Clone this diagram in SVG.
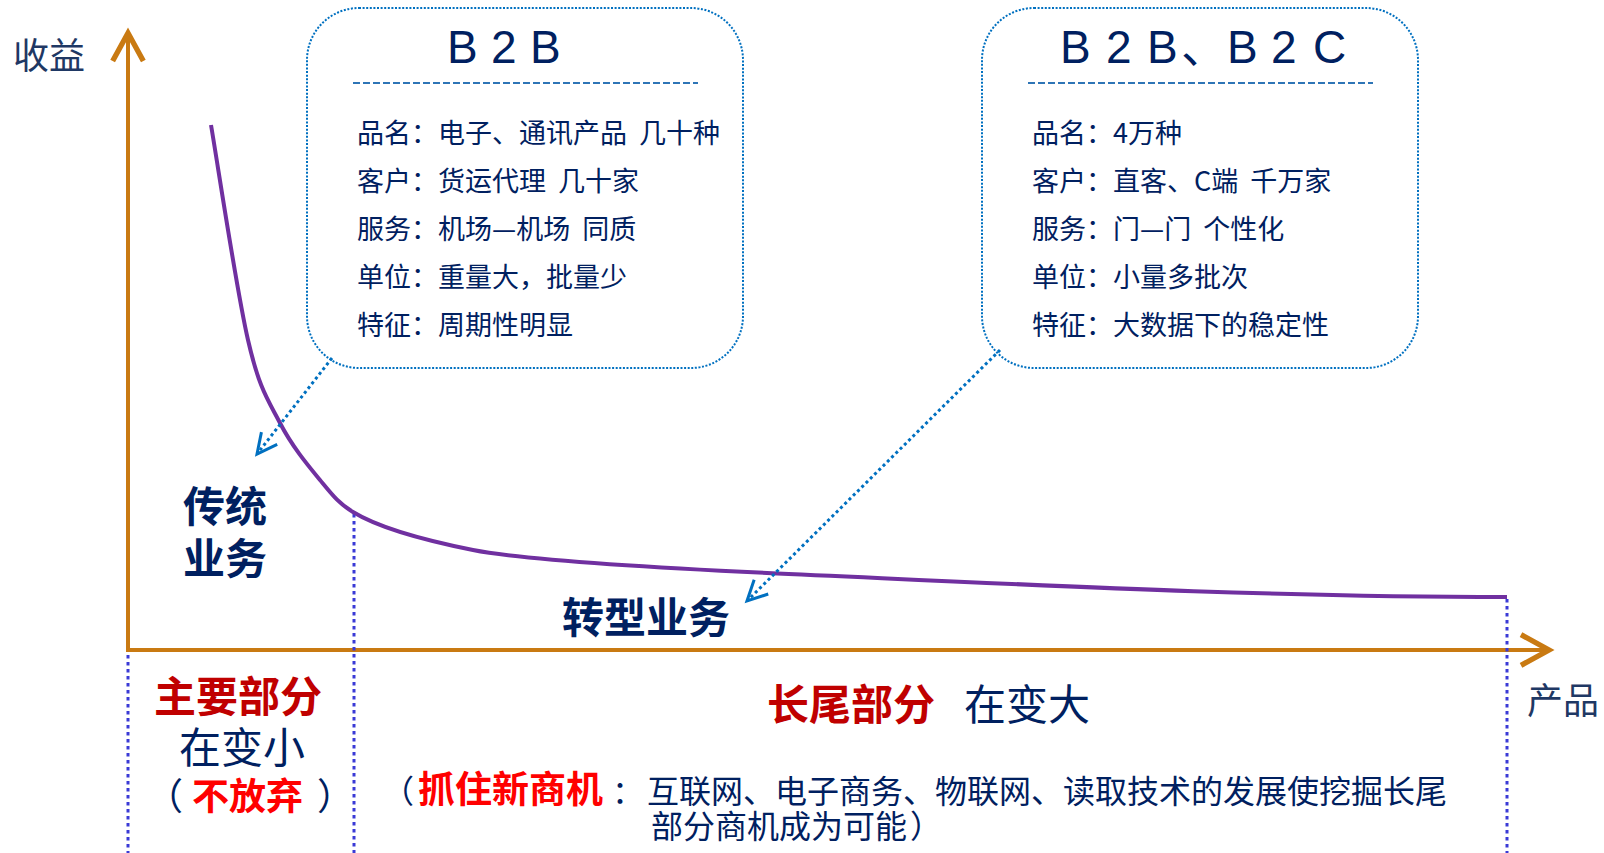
<svg xmlns="http://www.w3.org/2000/svg" width="1604" height="853" viewBox="0 0 1604 853">
<style>
.cjk{font-family:"Noto Sans CJK SC","Liberation Sans",sans-serif}
.navy{fill:#002060}
.axisLabel{font-family:"Noto Sans CJK SC",serif;font-size:36px;fill:#1F3864}
.body{font-family:"Noto Sans CJK SC","Liberation Sans",sans-serif;font-size:27px;fill:#002060;word-spacing:6px}
.title{font-family:"Liberation Sans","Noto Sans CJK SC",sans-serif;font-size:46px;fill:#002060}
.big{font-size:42px}
.bold{font-weight:bold}
.dred{fill:#C00000}
.red{fill:#FF0000}
.box{fill:none;stroke:#0070C0;stroke-width:2;stroke-dasharray:2 1.6}
.uline{stroke:#2E75B6;stroke-width:2;stroke-dasharray:7 3}
.tail{fill:none;stroke:#0070C0;stroke-width:3;stroke-dasharray:3 3}
.axis{fill:none;stroke:#C97A12;stroke-width:4}
.vdot{fill:none;stroke:#3A3AD6;stroke-width:3;stroke-dasharray:3.5 3.5}
.curve{fill:none;stroke:#7030A0;stroke-width:4}
</style>
<defs>
<marker id="axArrow" markerUnits="userSpaceOnUse" orient="auto" refX="0" refY="0" markerWidth="40" markerHeight="40" viewBox="-25 -15 30 30" overflow="visible">
<path d="M-21,-11.5 L0,0 L-21,11.5" fill="none" stroke="#C97A12" stroke-width="4"/>
</marker>
<marker id="tailArrow" markerUnits="userSpaceOnUse" orient="auto" refX="0" refY="0" markerWidth="30" markerHeight="30" viewBox="-25 -15 30 30" overflow="visible">
<path d="M-20,-10 L0,0 L-20,10" fill="none" stroke="#0070C0" stroke-width="3"/>
</marker>
</defs>

<g id="axes">
<path class="axis" d="M128,650 L128,33" marker-end="url(#axArrow)"/>
<path class="axis" d="M126,650 L1549,650" marker-end="url(#axArrow)"/>
<text class="axisLabel" x="13" y="69">收益</text>
<text class="axisLabel" x="1527" y="714">产品</text>
</g>

<g id="dividers">
<path class="vdot" d="M128,655 L128,853"/>
<path class="vdot" d="M354,514 L354,853"/>
<path class="vdot" d="M1507,599 L1507,853"/>
</g>

<g id="curve">
<path class="curve" d="M211,125 C217.2,160.8 236.5,290.3 248,340 C259.5,389.7 268,399.7 280,423 C292,446.3 307.8,465.2 320,480 C332.2,494.8 338.5,503.2 353,512 C383,530.5 433,542 473,550 C520,559.4 667,568.2 767,573 C1017,584 1257,597 1507,597"/>
</g>

<g id="box-b2b">
<rect class="box" x="307" y="8" width="436" height="360" rx="52" ry="52"/>
<text class="title" x="447 491 530" y="63">B2B</text>
<line class="uline" x1="353" y1="83" x2="698" y2="83"/>
<text class="body" x="357" y="143">品名：电子、通讯产品 几十种</text>
<text class="body" x="357" y="191">客户：货运代理 几十家</text>
<text class="body" x="357" y="239">服务：机场—机场 同质</text>
<text class="body" x="357" y="287">单位：重量大，批量少</text>
<text class="body" x="357" y="335">特征：周期性明显</text>
</g>

<g id="box-b2b-b2c">
<rect class="box" x="982" y="8" width="436" height="360" rx="52" ry="52"/>
<text class="title" x="1060 1106 1147 1181 1227 1271 1313" y="63">B2B、B2C</text>
<line class="uline" x1="1028" y1="83" x2="1373" y2="83"/>
<text class="body" x="1032" y="143">品名：4万种</text>
<text class="body" x="1032" y="191">客户：直客、C端 千万家</text>
<text class="body" x="1032" y="239">服务：门—门 个性化</text>
<text class="body" x="1032" y="287">单位：小量多批次</text>
<text class="body" x="1032" y="335">特征：大数据下的稳定性</text>
</g>

<g id="connectors">
<path class="tail" d="M332,358 L257,454" marker-end="url(#tailArrow)"/>
<path class="tail" d="M1000,350 L747,601" marker-end="url(#tailArrow)"/>
</g>

<g id="label-traditional">
<text class="cjk navy big bold" x="183" y="522">传统</text>
<text class="cjk navy big bold" x="183" y="574">业务</text>
</g>

<g id="label-transform">
<text class="cjk navy big bold" x="562" y="633">转型业务</text>
</g>

<g id="label-main">
<text class="cjk dred big bold" x="154" y="712">主要部分</text>
<text class="cjk navy big" x="179" y="763">在变小</text>
<text class="cjk" y="810" font-size="37"><tspan class="navy" x="146">（</tspan><tspan class="red bold" x="192">不放弃</tspan><tspan class="navy" x="317">）</tspan></text>
</g>

<g id="label-tail">
<text class="cjk big" y="720"><tspan class="dred bold" x="767">长尾部分</tspan><tspan class="navy" x="964">在变大</tspan></text>
<text class="cjk" y="803"><tspan class="navy" x="382" font-size="32">（</tspan><tspan class="red bold" x="418" font-size="37">抓住新商机</tspan><tspan class="navy" x="612" font-size="32">：</tspan><tspan class="navy" x="647" font-size="32">互联网、电子商务、物联网、读取技术的发展使挖掘长尾</tspan></text>
<text class="cjk navy" y="838" font-size="32"><tspan x="651">部分商机成为可能</tspan><tspan x="910">）</tspan></text>
</g>
</svg>
